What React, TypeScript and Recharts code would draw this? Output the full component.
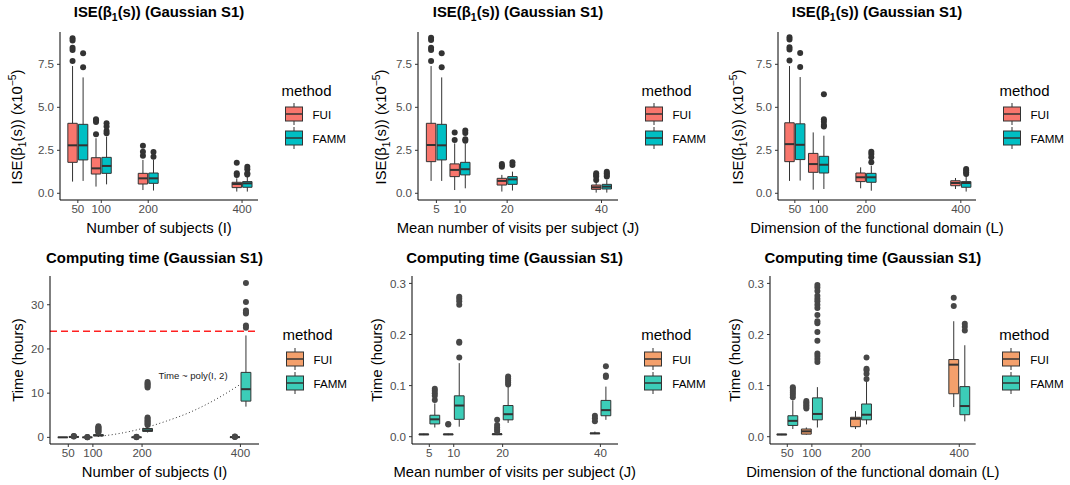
import React from "react";
import { ComposedChart, XAxis, YAxis, ReferenceArea, ReferenceLine, Scatter, Line } from "recharts";

type Stat = [number, number, number, number, number]; // lower whisker, q1, median, q3, upper whisker

// ---------- x categories ----------
const subjectsI = [50, 100, 200, 400];
const visitsJ = [5, 10, 20, 40];
const domainL = [50, 100, 200, 400];

// ---------- ISE (x10^-5) vs I ----------
const iseI_FUI: Stat[] = [
  [0.68, 1.8, 2.79, 4.07, 7.4],
  [0.39, 1.12, 1.45, 2.07, 3.2],
  [0.19, 0.54, 0.87, 1.16, 1.94],
  [0.1, 0.33, 0.54, 0.64, 0.87],
];
const iseI_FUI_out = [[7.69, 8.33, 8.47, 8.88, 9.01], [3.43, 4.15, 4.25, 4.3], [2.19, 2.42, 2.77], [1.07, 1.16, 1.78]];
const iseI_FAMM: Stat[] = [
  [0.72, 1.94, 2.79, 4.01, 6.74],
  [0.52, 1.16, 1.59, 2.09, 3.3],
  [0.16, 0.58, 0.87, 1.18, 1.95],
  [0.1, 0.35, 0.58, 0.68, 0.97],
];
const iseI_FAMM_out = [[7.33, 8.14], [3.49, 3.62, 3.88, 4.07], [2.13, 2.4], [1.1, 1.16, 1.4, 1.55]];

// ---------- ISE vs J ----------
const iseJ_FUI: Stat[] = [
  [0.72, 1.84, 2.81, 4.07, 7.4],
  [0.19, 0.97, 1.36, 1.71, 2.9],
  [0.1, 0.48, 0.72, 0.87, 1.07],
  [0.04, 0.23, 0.35, 0.48, 0.68],
];
const iseJ_FUI_out = [[7.69, 8.33, 8.47, 8.92, 9.05], [3.1, 3.53], [1.55, 1.62, 1.7], [0.78, 0.97, 1.07, 1.16]];
const iseJ_FAMM: Stat[] = [
  [0.72, 1.94, 2.79, 4.01, 6.74],
  [0.29, 1.07, 1.4, 1.8, 2.9],
  [0.16, 0.52, 0.81, 0.97, 1.26],
  [0.04, 0.25, 0.39, 0.52, 0.78],
];
const iseJ_FAMM_out = [[7.33, 8.14], [3.05, 3.15, 3.5, 3.65], [1.65, 1.8], [0.97, 1.07, 1.16, 1.26]];

// ---------- ISE vs L ----------
const iseL_FUI: Stat[] = [
  [0.72, 1.84, 2.86, 4.1, 7.4],
  [0.21, 1.22, 1.7, 2.32, 3.54],
  [0.29, 0.68, 0.93, 1.18, 1.51],
  [0.25, 0.44, 0.6, 0.73, 0.89],
];
const iseL_FUI_out = [[7.72, 8.36, 8.5, 8.95, 9.08], [], [], []];
const iseL_FAMM: Stat[] = [
  [0.74, 1.96, 2.82, 4.04, 6.76],
  [0.25, 1.18, 1.66, 2.15, 3.35],
  [0.15, 0.64, 0.93, 1.16, 1.6],
  [0.1, 0.35, 0.6, 0.68, 1.03],
];
const iseL_FAMM_out = [[7.35, 8.16], [3.89, 3.97, 4.16, 4.31, 5.76], [1.8, 2.09, 2.28, 2.42], [1.12, 1.22, 1.32, 1.41]];

// ---------- Time (hours) vs I ----------
const timeI_FUI: Stat[] = [
  [0.0, 0.003, 0.004, 0.005, 0.007],
  [0.005, 0.006, 0.007, 0.008, 0.01],
  [0.01, 0.015, 0.02, 0.025, 0.03],
  [0.03, 0.04, 0.05, 0.06, 0.08],
];
const timeI_FUI_out = [[], [0.02, 0.05, 0.1], [0.05, 0.1, 0.15], [0.1, 0.15, 0.2]];
const timeI_FAMM: Stat[] = [
  [0.05, 0.08, 0.1, 0.12, 0.16],
  [0.2, 0.35, 0.45, 0.6, 0.95],
  [1.1, 1.35, 1.6, 2.0, 2.6],
  [6.95, 8.2, 10.9, 14.7, 23.05],
];
const timeI_FAMM_out = [
  [0.2, 0.25, 0.3],
  [1.1, 1.3, 1.5, 1.7, 1.9, 2.1, 2.3, 2.5],
  [2.8, 3.0, 3.3, 3.6, 3.9, 4.2, 4.5, 11.3, 11.6, 11.9, 12.2, 12.5],
  [24.8, 25.3, 28.0, 28.3, 28.7, 30.6, 34.9],
];
const timeLimit = 24;
const polyI = [110, 150, 200, 250, 300, 350, 400];
const polyTime = [0.2, 0.8, 2.0, 3.7, 5.8, 8.6, 12.0];

// ---------- Time vs J ----------
const timeJ_FUI: Stat[] = [
  [0.003, 0.004, 0.0045, 0.005, 0.006],
  [0.003, 0.004, 0.0046, 0.005, 0.006],
  [0.003, 0.004, 0.005, 0.0055, 0.007],
  [0.005, 0.006, 0.0065, 0.007, 0.01],
];
const timeJ_FUI_out = [[], [0.024, 0.025], [0.01, 0.014, 0.018, 0.023, 0.033], [0.03, 0.036, 0.041]];
const timeJ_FAMM: Stat[] = [
  [0.018, 0.025, 0.034, 0.042, 0.065],
  [0.0196, 0.034, 0.061, 0.08, 0.144],
  [0.027, 0.033, 0.044, 0.061, 0.098],
  [0.033, 0.041, 0.052, 0.071, 0.098],
];
const timeJ_FAMM_out = [
  [0.072, 0.08, 0.085, 0.09, 0.094],
  [0.155, 0.184, 0.186, 0.258, 0.265, 0.27, 0.274],
  [0.102, 0.106, 0.11, 0.114, 0.118],
  [0.117, 0.12, 0.138],
];

// ---------- Time vs L ----------
const timeL_FUI: Stat[] = [
  [0.003, 0.0038, 0.0043, 0.0048, 0.0055],
  [0.004, 0.005, 0.0105, 0.015, 0.018],
  [0.015, 0.0196, 0.035, 0.038, 0.05],
  [0.058, 0.084, 0.141, 0.151, 0.226],
];
const timeL_FUI_out = [[], [0.055, 0.058, 0.061, 0.064, 0.067, 0.07], [], [0.256, 0.272]];
const timeL_FAMM: Stat[] = [
  [0.015, 0.022, 0.031, 0.041, 0.071],
  [0.018, 0.033, 0.0445, 0.076, 0.097],
  [0.024, 0.033, 0.043, 0.064, 0.11],
  [0.03, 0.043, 0.06, 0.098, 0.179],
];
const timeL_FAMM_out = [
  [0.077, 0.082, 0.086, 0.09, 0.094, 0.097],
  [0.146, 0.152, 0.158, 0.163, 0.188, 0.205, 0.222, 0.226, 0.238, 0.252, 0.258, 0.265, 0.27, 0.276, 0.285, 0.292, 0.297],
  [0.113, 0.123, 0.13, 0.133, 0.155],
  [0.208, 0.215, 0.221],
];

// ---------- ticks ----------
const xTicksIL = [50, 100, 200, 400];
const xTicksJ = [5, 10, 20, 40];
const yTicksISE = [0, 2.5, 5, 7.5];
const yTicksTimeI = [0, 10, 20, 30];
const yTicksTimeSmall = [0, 0.1, 0.2, 0.3];

const methods = ["FUI", "FAMM"];
const topColors = ["#F8766D", "#00BFC4"];
const botColors = ["#F4A06C", "#3CCDB8"];

const FONT = "'Liberation Sans', Arial, Helvetica, sans-serif";
const YW = 50;
const MT = 4;
const MR = 8;
const XH = 30;
const TICK_FS = 11.6;

type Group = { stats: Stat[]; outs: number[][]; color: string; side: number };

type PanelProps = {
  L: number; R: number; T: number; B: number;
  xDomain: [number, number]; yDomain: [number, number];
  xs: number[]; xTicks: number[]; yTicks: number[];
  yFmt: (v: number) => string; res: number;
  groups: Group[]; pointColor: string;
  extra?: React.ReactNode[];
};

function Panel(p: PanelProps) {
  const els: React.ReactNode[] = [];
  const hw = 0.2 * p.res;
  p.groups.forEach((g, gi) => {
    g.stats.forEach((s, i) => {
      const cx = p.xs[i] + g.side * 0.225 * p.res;
      els.push(
        <ReferenceLine key={`wu${gi}-${i}`} segment={[{ x: cx, y: s[3] }, { x: cx, y: s[4] }]} stroke="#333" strokeWidth={1} ifOverflow="visible" />
      );
      els.push(
        <ReferenceLine key={`wl${gi}-${i}`} segment={[{ x: cx, y: s[0] }, { x: cx, y: s[1] }]} stroke="#333" strokeWidth={1} ifOverflow="visible" />
      );
      els.push(
        <ReferenceArea key={`bx${gi}-${i}`} x1={cx - hw} x2={cx + hw} y1={s[1]} y2={s[3]} fill={g.color} fillOpacity={1} stroke="#333" strokeWidth={1} ifOverflow="visible" />
      );
      els.push(
        <ReferenceLine key={`md${gi}-${i}`} segment={[{ x: cx - hw, y: s[2] }, { x: cx + hw, y: s[2] }]} stroke="#333" strokeWidth={2} ifOverflow="visible" />
      );
    });
  });
  const pts = p.groups.flatMap((g) =>
    g.outs.flatMap((arr, i) => arr.map((v) => ({ x: p.xs[i] + g.side * 0.225 * p.res, y: v })))
  );
  const w = YW + (p.R - p.L) + MR;
  const h = MT + (p.B - p.T) + XH;
  return (
    <div style={{ position: "absolute", left: p.L - YW, top: p.T - MT }}>
      <ComposedChart width={w} height={h} margin={{ top: MT, right: MR, left: 0, bottom: 0 }}>
        <XAxis
          type="number" dataKey="x" domain={p.xDomain} ticks={p.xTicks} allowDataOverflow interval={0}
          height={XH} tickSize={3} tickMargin={2}
          axisLine={{ stroke: "#000", strokeWidth: 1 }} tickLine={{ stroke: "#333" }}
          tick={{ fontSize: TICK_FS, fill: "#4D4D4D", fontFamily: FONT }}
        />
        <YAxis
          type="number" dataKey="y" domain={p.yDomain} ticks={p.yTicks} allowDataOverflow interval={0}
          width={YW} tickSize={3} tickMargin={3} tickFormatter={p.yFmt}
          axisLine={{ stroke: "#000", strokeWidth: 1 }} tickLine={{ stroke: "#333" }}
          tick={{ fontSize: TICK_FS, fill: "#4D4D4D", fontFamily: FONT }}
        />
        {p.extra}
        {els}
        <Scatter
          data={pts} isAnimationActive={false}
          shape={(sp: any) => <circle cx={sp.cx} cy={sp.cy} r={3} fill={p.pointColor} />}
        />
      </ComposedChart>
    </div>
  );
}

function Text(props: { x: number; y: number; size: number; bold?: boolean; rotate?: boolean; color?: string; children: React.ReactNode; align?: "center" | "left" }) {
  const tf = props.rotate
    ? "translate(-50%, -50%) rotate(-90deg)"
    : props.align === "left"
    ? "translate(0, -50%)"
    : "translate(-50%, -50%)";
  return (
    <div
      style={{
        position: "absolute", left: props.x, top: props.y, transform: tf, whiteSpace: "nowrap",
        fontSize: props.size, fontWeight: props.bold ? 700 : 400, lineHeight: 1, color: props.color || "#000",
        fontFamily: FONT,
      }}
    >
      {props.children}
    </div>
  );
}

function Legend(props: { x: number; titleY: number; y1: number; y2: number; colors: string[] }) {
  const ys = [props.y1, props.y2];
  return (
    <>
      <Text x={props.x} y={props.titleY} size={15} align="left">method</Text>
      {methods.map((m, i) => (
        <React.Fragment key={m}>
          <svg style={{ position: "absolute", left: props.x + 2, top: ys[i] - 11 }} width={20} height={22}>
            <line x1={10} y1={0} x2={10} y2={22} stroke="#333" strokeWidth={1} />
            <rect x={1.5} y={4} width={17} height={14} fill={props.colors[i]} stroke="#333" strokeWidth={1} />
            <line x1={1.5} y1={11} x2={18.5} y2={11} stroke="#333" strokeWidth={1.5} />
          </svg>
          <Text x={props.x + 31} y={ys[i] + 1} size={11.6} align="left">{m}</Text>
        </React.Fragment>
      ))}
    </>
  );
}

const fmt1 = (v: number) => v.toFixed(1);
const fmt0 = (v: number) => v.toFixed(0);

const iseLabel = (
  <span>
    ISE(β<sub style={{ fontSize: "0.7em" }}>1</sub>(s)) (x10<sup style={{ fontSize: "0.7em" }}>−5</sup>)
  </span>
);
const iseTitle = (
  <span>
    ISE(β<sub style={{ fontSize: "0.7em" }}>1</sub>(s)) (Gaussian S1)
  </span>
);

export default function App() {
  const topT = 32, topB = 200, botT = 276, botB = 444;
  const iseY: [number, number] = [-0.39, 9.38];
  const smallY: [number, number] = [-0.0143, 0.3145];

  const panels = [
    { L: 60, R: 258, T: topT, B: topB, xDomain: [12, 434] as [number, number], yDomain: iseY, xs: subjectsI, xTicks: xTicksIL, yTicks: yTicksISE, yFmt: fmt1, res: 50,
      groups: [
        { stats: iseI_FUI, outs: iseI_FUI_out, color: topColors[0], side: -1 },
        { stats: iseI_FAMM, outs: iseI_FAMM_out, color: topColors[1], side: 1 },
      ], pointColor: "#333" },
    { L: 418, R: 618, T: topT, B: topB, xDomain: [1.1, 43.5] as [number, number], yDomain: iseY, xs: visitsJ, xTicks: xTicksJ, yTicks: yTicksISE, yFmt: fmt1, res: 5,
      groups: [
        { stats: iseJ_FUI, outs: iseJ_FUI_out, color: topColors[0], side: -1 },
        { stats: iseJ_FAMM, outs: iseJ_FAMM_out, color: topColors[1], side: 1 },
      ], pointColor: "#333" },
    { L: 778, R: 976, T: topT, B: topB, xDomain: [14.5, 432] as [number, number], yDomain: iseY, xs: domainL, xTicks: xTicksIL, yTicks: yTicksISE, yFmt: fmt1, res: 50,
      groups: [
        { stats: iseL_FUI, outs: iseL_FUI_out, color: topColors[0], side: -1 },
        { stats: iseL_FAMM, outs: iseL_FAMM_out, color: topColors[1], side: 1 },
      ], pointColor: "#333" },
    { L: 50, R: 259, T: botT, B: botB, xDomain: [12.8, 437.8] as [number, number], yDomain: [-1.5, 36.5] as [number, number], xs: subjectsI, xTicks: xTicksIL, yTicks: yTicksTimeI, yFmt: fmt0, res: 50,
      groups: [
        { stats: timeI_FUI, outs: timeI_FUI_out, color: botColors[0], side: -1 },
        { stats: timeI_FAMM, outs: timeI_FAMM_out, color: botColors[1], side: 1 },
      ], pointColor: "#474747",
      extra: [
        <ReferenceLine key="limit" y={timeLimit} stroke="#FF2020" strokeWidth={1.3} strokeDasharray="7 4" />,
        <Line key="poly" data={polyI.map((x, i) => ({ x, y: polyTime[i] }))} dataKey="y" type="monotone" stroke="#333" strokeWidth={1} strokeDasharray="1 2.5" dot={false} isAnimationActive={false} />,
      ] },
    { L: 411.7, R: 617.7, T: botT, B: botB, xDomain: [1.46, 43.6] as [number, number], yDomain: smallY, xs: visitsJ, xTicks: xTicksJ, yTicks: yTicksTimeSmall, yFmt: fmt1, res: 5,
      groups: [
        { stats: timeJ_FUI, outs: timeJ_FUI_out, color: botColors[0], side: -1 },
        { stats: timeJ_FAMM, outs: timeJ_FAMM_out, color: botColors[1], side: 1 },
      ], pointColor: "#474747" },
    { L: 770, R: 975.7, T: botT, B: botB, xDomain: [14.8, 433.4] as [number, number], yDomain: smallY, xs: domainL, xTicks: xTicksIL, yTicks: yTicksTimeSmall, yFmt: fmt1, res: 50,
      groups: [
        { stats: timeL_FUI, outs: timeL_FUI_out, color: botColors[0], side: -1 },
        { stats: timeL_FAMM, outs: timeL_FAMM_out, color: botColors[1], side: 1 },
      ], pointColor: "#474747" },
  ];

  const xTitles = ["Number of subjects (I)", "Mean number of visits per subject (J)", "Dimension of the functional domain (L)"];
  const yLabX = [18.3, 381.7, 739.3];
  const yLabXBot = [18.3, 376.7, 735];

  return (
    <div style={{ position: "absolute", left: 0, top: 0, width: 1070, height: 485, background: "#fff", fontFamily: FONT, overflow: "hidden" }}>
      {panels.map((p, i) => (
        <Panel key={i} {...(p as any)} />
      ))}
      {panels.map((p, i) => {
        const top = i < 3;
        const cx = (p.L + p.R) / 2;
        return (
          <React.Fragment key={`t${i}`}>
            <Text x={cx} y={top ? 14 : 258} size={14.9} bold>
              {top ? iseTitle : "Computing time (Gaussian S1)"}
            </Text>
            <Text x={cx} y={top ? 228 : 471.5} size={14.8}>{xTitles[i % 3]}</Text>
            <Text x={top ? yLabX[i] : yLabXBot[i - 3]} y={top ? 126.5 : 360} size={14.8} rotate>
              {top ? iseLabel : "Time (hours)"}
            </Text>
            <Legend
              x={p.R + 23.5}
              titleY={top ? 89.5 : 333.5}
              y1={top ? 114 : 359.2}
              y2={top ? 137.5 : 382.6}
              colors={top ? topColors : botColors}
            />
          </React.Fragment>
        );
      })}
      <Text x={193} y={375.5} size={9.6} color="#222">Time ~ poly(I, 2)</Text>
    </div>
  );
}
